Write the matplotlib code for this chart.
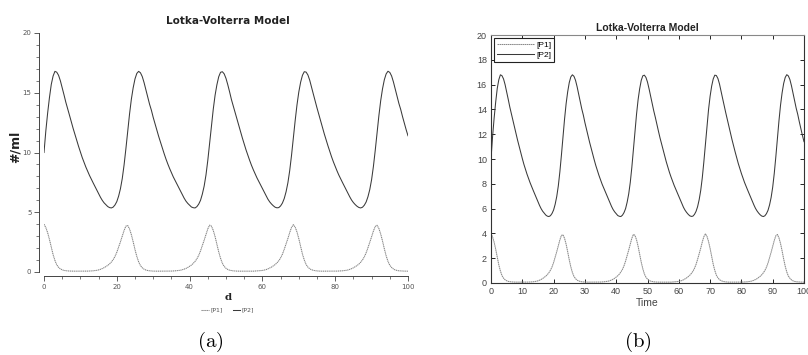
import numpy as np
import matplotlib
matplotlib.use('Agg')
import matplotlib.pyplot as plt
from matplotlib.ticker import MultipleLocator

plt.rcParams['mathtext.fontset'] = 'cm'

# time grid (days), values at 0.5 steps
time = np.arange(0, 100.5, 0.5)

p2 = [10.0, 11.8, 13.3, 14.6, 15.7, 16.4, 16.79, 16.72, 16.46, 16.0,
      15.42, 14.82, 14.2, 13.67, 13.12, 12.57, 12.02, 11.51, 11.01, 10.51,
      10.04, 9.58, 9.18, 8.78, 8.42, 8.08, 7.76, 7.46, 7.16, 6.85,
      6.57, 6.26, 6.0, 5.79, 5.63, 5.48, 5.39, 5.36, 5.43, 5.61,
      5.89, 6.35, 6.97, 7.82, 8.96, 10.32, 11.8, 13.22, 14.46, 15.42,
      16.16, 16.62, 16.79, 16.67, 16.35, 15.84, 15.24, 14.63, 14.04, 13.54,
      12.94, 12.41, 11.85, 11.35, 10.86, 10.36, 9.91, 9.46, 9.05, 8.67,
      8.32, 7.97, 7.67, 7.37, 7.08, 6.78, 6.47, 6.18, 5.93, 5.74,
      5.59, 5.44, 5.38, 5.36, 5.47, 5.68, 6.0, 6.52, 7.19, 8.12,
      9.34, 10.75, 12.24, 13.62, 14.79, 15.67, 16.34, 16.71, 16.76, 16.58,
      16.2, 15.66, 15.06, 14.42, 13.88, 13.36, 12.78, 12.24, 11.7, 11.21,
      10.7, 10.22, 9.77, 9.34, 8.93, 8.56, 8.22, 7.88, 7.58, 7.28,
      6.98, 6.69, 6.38, 6.1, 5.87, 5.69, 5.54, 5.42, 5.37, 5.39,
      5.53, 5.77, 6.15, 6.71, 7.46, 8.48, 9.76, 11.2, 12.66, 13.98,
      15.06, 15.88, 16.46, 16.76, 16.73, 16.49, 16.05, 15.48, 14.88, 14.29,
      13.73, 13.18, 12.61, 12.07, 11.56, 11.05, 10.57, 10.09, 9.64, 9.22,
      8.83, 8.46, 8.11, 7.79, 7.49, 7.19, 6.89, 6.6, 6.29, 6.02,
      5.81, 5.64, 5.5, 5.4, 5.36, 5.42, 5.59, 5.86, 6.3, 6.9,
      7.73, 8.84, 10.18, 11.65, 13.08, 14.34, 15.33, 16.09, 16.58, 16.8,
      16.7, 16.4, 15.9, 15.3, 14.7, 14.1, 13.6, 13.0, 12.45, 11.9,
      11.4]

p1 = [4.0, 3.72, 3.29, 2.72, 2.07, 1.45, 0.97, 0.6, 0.39, 0.26,
      0.18, 0.13, 0.11, 0.09, 0.08, 0.075, 0.07, 0.07, 0.07, 0.07,
      0.07, 0.07, 0.07, 0.07, 0.075, 0.08, 0.09, 0.1, 0.12, 0.14,
      0.175, 0.225, 0.285, 0.36, 0.45, 0.55, 0.675, 0.835, 1.035, 1.3,
      1.65, 2.075, 2.525, 3.0, 3.475, 3.84, 3.89, 3.6, 3.125, 2.525,
      1.875, 1.3, 0.85, 0.535, 0.35, 0.235, 0.165, 0.125, 0.1, 0.085,
      0.075, 0.07, 0.07, 0.07, 0.07, 0.07, 0.07, 0.07, 0.07, 0.07,
      0.078, 0.085, 0.095, 0.11, 0.13, 0.15, 0.19, 0.24, 0.3, 0.38,
      0.48, 0.58, 0.72, 0.89, 1.1, 1.39, 1.77, 2.21, 2.66, 3.15,
      3.61, 3.92, 3.84, 3.48, 2.96, 2.33, 1.68, 1.15, 0.73, 0.47,
      0.31, 0.21, 0.15, 0.12, 0.095, 0.082, 0.075, 0.07, 0.07, 0.07,
      0.07, 0.07, 0.07, 0.07, 0.07, 0.07, 0.08, 0.088, 0.1, 0.115,
      0.13, 0.16, 0.2, 0.26, 0.33, 0.41, 0.51, 0.62, 0.77, 0.94,
      1.18, 1.49, 1.9, 2.35, 2.8, 3.3, 3.73, 3.96, 3.76, 3.35,
      2.79, 2.14, 1.5, 1.01, 0.63, 0.41, 0.27, 0.19, 0.14, 0.11,
      0.09, 0.08, 0.07, 0.07, 0.07, 0.07, 0.07, 0.07, 0.07, 0.07,
      0.07, 0.075, 0.082, 0.09, 0.1, 0.12, 0.14, 0.17, 0.22, 0.28,
      0.35, 0.44, 0.54, 0.66, 0.82, 1.01, 1.27, 1.61, 2.03, 2.48,
      2.95, 3.43, 3.81, 3.91, 3.64, 3.18, 2.59, 1.94, 1.35, 0.89,
      0.56, 0.38, 0.25, 0.17, 0.13, 0.1, 0.09, 0.08, 0.075, 0.07,
      0.07]

series_labels = ['[P1]', '[P2]']
title = 'Lotka-Volterra Model'

W, H = 808, 355
fig = plt.figure(figsize=(W / 100, H / 100), dpi=100)


def fx(px):
    return px / W


def fy(py):
    return 1 - py / H


# ----------------------------- (a) -----------------------------
ax1 = fig.add_axes([fx(44), fy(272), (408 - 44) / W, (272 - 33) / H])
ax1.plot(time, p1, color='#808080', lw=0.75, ls=(0, (1.2, 0.6)), label=series_labels[0])
ax1.plot(time, p2, color='#3a3a3a', lw=0.75, label=series_labels[1])
ax1.set_xlim(0, 100)
ax1.set_ylim(0, 20)
for s in ['top', 'right']:
    ax1.spines[s].set_visible(False)
ax1.spines['left'].set_position(('outward', 3.6))
ax1.spines['bottom'].set_position(('outward', 3.0))
for s in ['left', 'bottom']:
    ax1.spines[s].set_linewidth(0.7)
    ax1.spines[s].set_color('#444444')
ax1.xaxis.set_major_locator(MultipleLocator(20))
ax1.xaxis.set_minor_locator(MultipleLocator(5))
ax1.yaxis.set_major_locator(MultipleLocator(5))
ax1.yaxis.set_minor_locator(MultipleLocator(1))
ax1.tick_params(which='major', length=3.5, width=0.6, color='#444444',
                labelsize=5, labelcolor='#555555', pad=2)
ax1.tick_params(which='minor', length=2, width=0.5, color='#444444')

fig.text(fx(228), fy(21), title, ha='center', va='center',
         fontsize=7.5, fontweight='bold', color='#222222')
fig.text(fx(15), fy(147), '#/ml', ha='center', va='center', rotation=90,
         fontsize=9, fontweight='bold', color='#222222')
fig.text(fx(228), fy(298), 'd', ha='center', va='center',
         fontsize=7.5, fontweight='bold', family='DejaVu Serif', color='#222222')
fig.legend(handles=ax1.get_lines(), labels=series_labels, loc='center',
           bbox_to_anchor=(fx(228), fy(310)), ncol=2, frameon=False,
           fontsize=4.5, handlelength=1.2, handletextpad=0.3, columnspacing=1.5,
           labelcolor='#555555')
fig.text(fx(210), fy(342), r'$\mathrm{(a)}$', ha='center', va='center', fontsize=15)

# ----------------------------- (b) -----------------------------
ax2 = fig.add_axes([fx(491), fy(283), (804 - 491) / W, (283 - 35) / H])
ax2.plot(time, p1, color='#8a8a8a', lw=0.75, ls=(0, (1.5, 0.5)), label=series_labels[0])
ax2.plot(time, p2, color='#3a3a3a', lw=0.75, label=series_labels[1])
ax2.set_xlim(0, 100)
ax2.set_ylim(0, 20)
for s in ax2.spines.values():
    s.set_linewidth(0.8)
    s.set_color('#333333')
ax2.spines['top'].set_color('#888888')
ax2.xaxis.set_major_locator(MultipleLocator(10))
ax2.yaxis.set_major_locator(MultipleLocator(2))
ax2.tick_params(direction='in', top=True, right=True, length=3, width=0.6,
                labelsize=6.5, labelcolor='#444444', pad=3)
for lab in ax2.get_xticklabels() + ax2.get_yticklabels():
    lab.set_family('Liberation Sans')
ax2.set_title(title, fontsize=7.5, fontweight='bold', family='Liberation Sans',
              pad=3, color='#222222')
ax2.set_xlabel('Time', fontsize=7.5, family='Liberation Sans', color='#444444', labelpad=1)
leg = ax2.legend(loc='upper left', handlelength=4.4, handletextpad=0.3,
                 borderpad=0.35, labelspacing=0.3, fancybox=False, framealpha=1,
                 borderaxespad=0.35, prop={'family': 'Liberation Sans', 'size': 6})
leg.get_frame().set_edgecolor('#222222')
leg.get_frame().set_linewidth(0.8)
fig.text(fx(638), fy(342), r'$\mathrm{(b)}$', ha='center', va='center', fontsize=15)

plt.savefig('out.png', dpi=100)
plt.close(fig)
